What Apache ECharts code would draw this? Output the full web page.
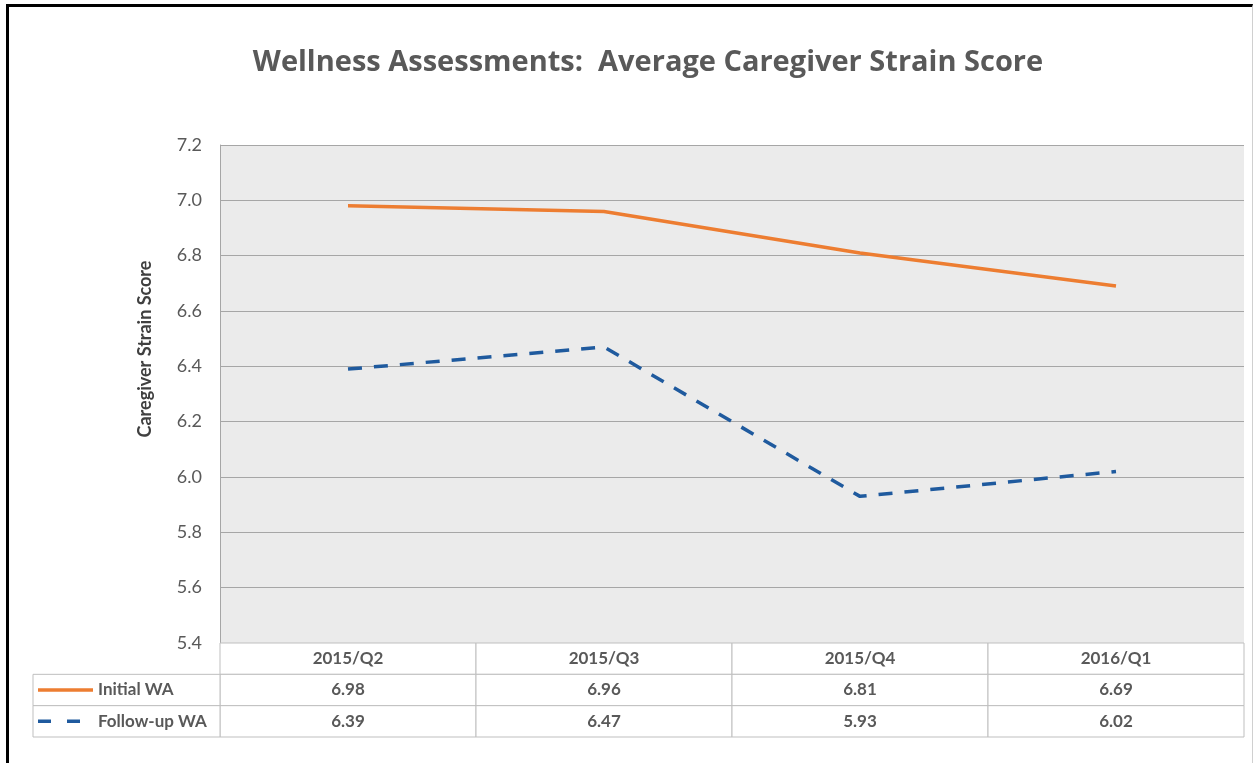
<!DOCTYPE html>
<html>
<head>
<meta charset="utf-8">
<title>Wellness Assessments: Average Caregiver Strain Score</title>
<script src="https://cdn.jsdelivr.net/npm/echarts@6/dist/echarts.min.js"></script>
<style>
  html, body { margin: 0; padding: 0; background: #fff; }
  #chart { width: 1255px; height: 763px; }
  #frame {
    position: absolute; left: 6px; top: 4px; width: 1243px; height: 770px;
    border-top: 3px solid #000; border-left: 3px solid #000; border-right: 1px solid #d0d0d0;
    pointer-events: none;
  }
</style>
</head>
<body>
<div id="chart"></div>
<div id="frame"></div>
<script>
const categories = ['2015/Q2', '2015/Q3', '2015/Q4', '2016/Q1'];
const initialWA = [6.98, 6.96, 6.81, 6.69];
const followUpWA = [6.39, 6.47, 5.93, 6.02];
const seriesNames = ['Initial WA', 'Follow-up WA'];
const yTicks = { min: 5.4, max: 7.2, interval: 0.2 };

const FONT = 'Lato, "Open Sans", sans-serif';
const ORANGE = '#ED7D31';
const BLUE = '#1F5A9E';
const BORDER = '#bfbfbf';
const TEXT = '#595959';

// Table cells: [category index, row, text]
const tableCells = [];
categories.forEach((c, i) => {
  tableCells.push([i, 0, c]);
  tableCells.push([i, 1, initialWA[i].toFixed(2)]);
  tableCells.push([i, 2, followUpWA[i].toFixed(2)]);
});

const chart = echarts.init(document.getElementById('chart'));

chart.setOption({
  animation: false,
  graphic: [
    {
      type: 'text', x: 648, y: 63,
      style: {
        text: 'Wellness Assessments:  Average Caregiver Strain Score',
        font: 'bold 29px "Open Sans", sans-serif', fill: TEXT, align: 'center', verticalAlign: 'middle'
      }
    },
    {
      type: 'text', x: 145, y: 349, rotation: Math.PI / 2,
      style: {
        text: 'Caregiver Strain Score',
        font: 'bold 18px ' + FONT, fill: '#404040', align: 'center', verticalAlign: 'middle'
      }
    }
  ],
  grid: [
    { left: 220, right: 11, top: 145, height: 498, backgroundColor: '#ebebeb', show: true, borderWidth: 0 },
    { left: 220, right: 11, top: 643, height: 94 }
  ],
  xAxis: [
    {
      type: 'category', data: categories, gridIndex: 0, boundaryGap: true,
      axisLabel: { show: false }, axisTick: { show: false },
      axisLine: { show: false }
    },
    {
      type: 'category', data: categories, gridIndex: 1, boundaryGap: true,
      axisLabel: { show: false }, axisTick: { show: false }, axisLine: { show: false }
    }
  ],
  yAxis: [
    {
      type: 'value', gridIndex: 0, min: yTicks.min, max: yTicks.max, interval: yTicks.interval,
      axisLabel: {
        color: TEXT, fontFamily: FONT, fontSize: 18, margin: 18,
        formatter: v => v.toFixed(1)
      },
      axisLine: { show: true, lineStyle: { color: '#a6a6a6', width: 1 } },
      axisTick: { show: false },
      splitLine: { lineStyle: { color: '#a6a6a6', width: 1 } }
    },
    {
      type: 'value', gridIndex: 1, min: 0, max: 3, inverse: true, show: false
    }
  ],
  series: [
    {
      name: seriesNames[0], type: 'line', data: initialWA,
      xAxisIndex: 0, yAxisIndex: 0, symbol: 'none',
      lineStyle: { color: ORANGE, width: 3.5 }
    },
    {
      name: seriesNames[1], type: 'line', data: followUpWA,
      xAxisIndex: 0, yAxisIndex: 0, symbol: 'none',
      lineStyle: { color: BLUE, width: 3.5, type: [14, 12] }
    },
    {
      type: 'custom', xAxisIndex: 1, yAxisIndex: 1, data: tableCells,
      renderItem: (params, api) => {
        const p = api.coord([api.value(0), api.value(1)]);
        const w = api.size([1, 0])[0];
        const h = api.size([0, 1])[1];
        const text = tableCells[params.dataIndex][2];
        return {
          type: 'group',
          children: [
            {
              type: 'rect',
              shape: { x: p[0] - w / 2, y: p[1], width: w, height: h },
              style: { fill: '#fff', stroke: BORDER, lineWidth: 1 }
            },
            {
              type: 'text', x: p[0], y: p[1] + h / 2,
              style: {
                text: text, font: 'bold 17px ' + FONT, fill: TEXT,
                align: 'center', verticalAlign: 'middle'
              }
            }
          ]
        };
      }
    },
    {
      // legend column of the data table
      type: 'custom', xAxisIndex: 1, yAxisIndex: 1, data: [[0, 1, 0], [0, 2, 1]],
      renderItem: (params, api) => {
        const idx = api.value(2);
        const top = api.coord([0, api.value(1)])[1];
        const h = api.size([0, 1])[1];
        const right = params.coordSys.x;
        const left = right - 187;
        const mid = top + h / 2;
        return {
          type: 'group',
          children: [
            {
              type: 'rect',
              shape: { x: left, y: top, width: right - left, height: h },
              style: { fill: '#fff', stroke: BORDER, lineWidth: 1 }
            },
            {
              type: 'line',
              shape: { x1: left + 5, y1: mid, x2: left + 60, y2: mid },
              style: {
                stroke: idx === 0 ? ORANGE : BLUE, lineWidth: 3.5,
                lineDash: idx === 0 ? null : [13, 16]
              }
            },
            {
              type: 'text', x: left + 65, y: mid,
              style: {
                text: seriesNames[idx], font: 'bold 17px ' + FONT, fill: TEXT,
                align: 'left', verticalAlign: 'middle'
              }
            }
          ]
        };
      }
    }
  ]
});
</script>
</body>
</html>
